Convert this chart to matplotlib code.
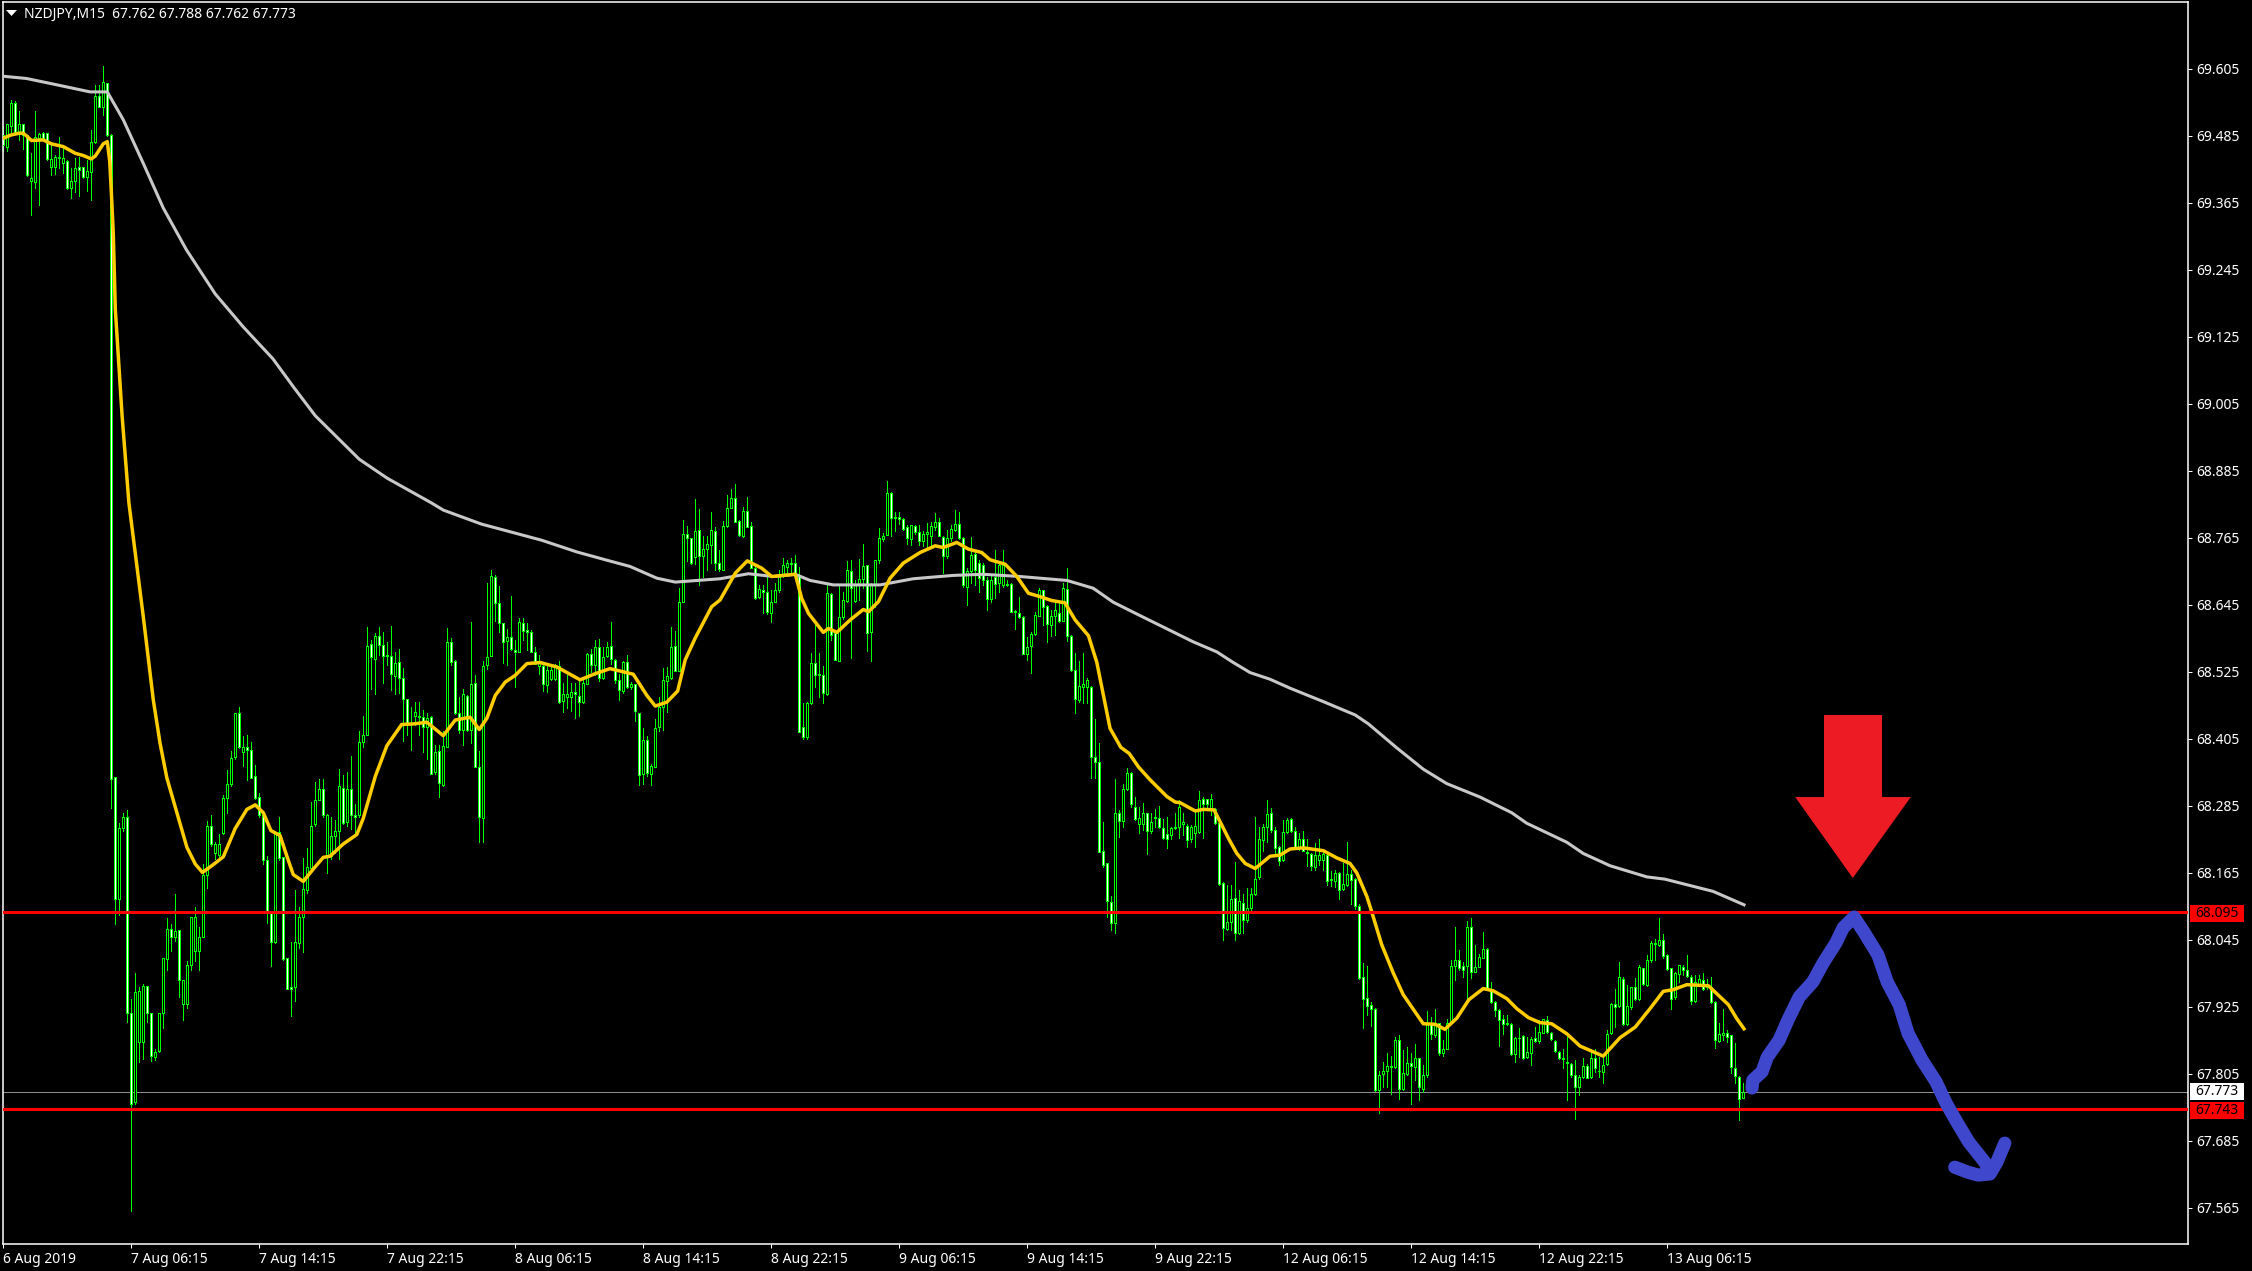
import matplotlib
matplotlib.use("Agg")
import matplotlib.pyplot as plt
from matplotlib.patches import Polygon, Rectangle

# candles as (open, high, low, close), one list per stretch of the chart
bars_6_aug = [
    (69.487,69.503,69.459,69.469),(69.466,69.507,69.459,69.507),(69.503,69.55,69.493,69.544),(69.544,69.547,69.49,69.492),
    (69.493,69.529,69.478,69.507),(69.507,69.507,69.462,69.487),(69.487,69.487,69.413,69.416),(69.404,69.454,69.344,69.41),
    (69.402,69.529,69.392,69.484),(69.481,69.49,69.362,69.489),(69.49,69.493,69.478,69.481),(69.49,69.49,69.442,69.444),
    (69.429,69.472,69.416,69.444),(69.429,69.451,69.417,69.448),(69.447,69.484,69.428,69.445),(69.436,69.463,69.419,69.445),
    (69.441,69.442,69.39,69.392),(69.392,69.428,69.374,69.404),(69.404,69.445,69.384,69.428),(69.43,69.448,69.378,69.424),
    (69.429,69.429,69.41,69.411),(69.411,69.442,69.386,69.422),(69.42,69.495,69.371,69.475),(69.475,69.577,69.473,69.556),
    (69.556,69.577,69.537,69.537),(69.537,69.611,69.523,69.581),(69.58,69.58,69.485,69.487),(69.487,69.488,68.282,68.333),
    (68.337,68.337,68.074,68.119),(68.119,68.255,68.089,68.245),(68.245,68.273,68.24,68.265),(68.265,68.278,67.898,67.914),
]
bars_7_aug = [
    (67.914,67.939,67.559,67.752),(67.754,67.986,67.751,67.951),(67.863,67.96,67.826,67.954),(67.862,67.967,67.832,67.963),
    (67.962,67.962,67.898,67.914),(67.914,67.914,67.829,67.837),(67.836,67.85,67.83,67.844),(67.847,67.915,67.845,67.915),
    (67.914,68.012,67.888,68.012),(68.011,68.085,67.992,68.065),(68.064,68.074,68.026,68.051),(68.051,68.127,68.044,68.061),
    (68.063,68.063,67.943,67.974),(67.93,67.974,67.902,67.974),(67.93,68.008,67.924,68.001),(68.0,68.086,67.992,68.086),
    (68.025,68.104,68.007,68.086),(68.025,68.069,67.992,68.05),(68.05,68.181,68.05,68.162),(68.161,68.258,68.139,68.249),
    (68.249,68.268,68.214,68.217),(68.2,68.22,68.19,68.217),(68.198,68.234,68.194,68.217),(68.237,68.305,68.234,68.299),
    (68.299,68.35,68.273,68.324),(68.324,68.384,68.32,68.371),(68.372,68.452,68.37,68.452),(68.452,68.463,68.388,68.39),
    (68.382,68.41,68.356,68.39),(68.39,68.412,68.331,68.386),(68.386,68.4,68.335,68.336),(68.338,68.358,68.298,68.3),
    (68.302,68.309,68.266,68.268),(68.268,68.268,68.181,68.188),(68.188,68.196,68.076,68.093),(68.093,68.097,67.999,68.041),
    (68.041,68.24,68.04,68.239),(68.239,68.266,68.189,68.191),(68.193,68.193,68.009,68.011),(68.013,68.013,67.957,67.958),
    (67.96,68.041,67.908,67.958),(67.96,68.134,67.935,68.041),(68.039,68.104,68.03,68.086),(68.087,68.191,68.024,68.136),
    (68.135,68.209,68.13,68.175),(68.174,68.292,68.17,68.25),(68.252,68.328,68.25,68.296),(68.296,68.333,68.295,68.316),
    (68.315,68.333,68.265,68.268),(68.195,68.27,68.165,68.268),(68.195,68.266,68.19,68.232),(68.232,68.26,68.2,68.241),
    (68.241,68.351,68.19,68.32),(68.318,68.341,68.253,68.255),(68.257,68.345,68.25,68.316),(68.315,68.374,68.243,68.268),
    (68.268,68.289,68.237,68.266),(68.268,68.42,68.265,68.4),(68.4,68.446,68.39,68.413),(68.413,68.605,68.413,68.572),
    (68.575,68.582,68.494,68.552),(68.549,68.594,68.486,68.59),(68.589,68.605,68.555,68.574),(68.574,68.597,68.506,68.554),
    (68.554,68.578,68.537,68.556),(68.554,68.607,68.493,68.521),(68.518,68.56,68.486,68.542),(68.543,68.566,68.487,68.514),
    (68.514,68.532,68.402,68.476),(68.476,68.476,68.412,68.431),(68.431,68.462,68.385,68.433),(68.447,68.471,68.43,68.453),
    (68.447,68.471,68.412,68.445),(68.444,68.457,68.382,68.426),(68.427,68.451,68.37,68.442),(68.444,68.446,68.343,68.343),
    (68.345,68.394,68.343,68.382),(68.383,68.394,68.302,68.326),(68.323,68.42,68.321,68.393),(68.39,68.603,68.39,68.579),
    (68.578,68.585,68.537,68.543),(68.545,68.546,68.449,68.451),(68.451,68.48,68.415,68.421),(68.421,68.495,68.394,68.485),
    (68.482,68.483,68.419,68.421),(68.422,68.614,68.398,68.504),(68.505,68.52,68.354,68.355),(68.355,68.383,68.221,68.265),
    (68.264,68.545,68.221,68.536),(68.537,68.685,68.53,68.552),(68.554,68.707,68.554,68.697),(68.696,68.698,68.616,68.649),
    (68.648,68.679,68.597,68.612),(68.612,68.613,68.541,68.579),(68.581,68.602,68.537,68.587),(68.588,68.661,68.565,68.567),
]
bars_8_aug = [
    (68.565,68.582,68.498,68.561),(68.561,68.621,68.561,68.615),(68.613,68.622,68.582,68.599),(68.601,68.613,68.565,68.597),
    (68.597,68.6,68.56,68.561),(68.561,68.57,68.539,68.539),(68.535,68.556,68.522,68.541),(68.535,68.54,68.491,68.504),
    (68.502,68.54,68.489,68.529),(68.513,68.54,68.511,68.528),(68.513,68.539,68.51,68.537),(68.535,68.545,68.47,68.471),
    (68.473,68.506,68.454,68.485),(68.48,68.519,68.461,68.486),(68.48,68.506,68.455,68.489),(68.489,68.506,68.443,68.485),
    (68.482,68.512,68.446,68.471),(68.471,68.513,68.47,68.505),(68.504,68.559,68.503,68.558),(68.558,68.567,68.525,68.537),
    (68.537,68.582,68.519,68.57),(68.57,68.584,68.509,68.515),(68.515,68.569,68.513,68.552),(68.553,68.579,68.552,68.57),
    (68.572,68.614,68.54,68.549),(68.546,68.549,68.506,68.51),(68.511,68.522,68.474,68.492),(68.491,68.545,68.487,68.543),
    (68.543,68.555,68.497,68.498),(68.498,68.507,68.495,68.504),(68.503,68.504,68.437,68.455),(68.451,68.452,68.322,68.34),
    (68.343,68.424,68.325,68.404),(68.404,68.41,68.338,68.344),(68.343,68.36,68.322,68.357),(68.355,68.44,68.354,68.425),
    (68.427,68.48,68.42,68.462),(68.462,68.533,68.421,68.51),(68.509,68.534,68.454,68.517),(68.515,68.605,68.513,68.569),
    (68.571,68.599,68.526,68.527),(68.526,68.675,68.526,68.651),(68.65,68.797,68.65,68.772),(68.772,68.787,68.723,68.765),
    (68.765,68.765,68.718,68.72),(68.731,68.835,68.718,68.778),(68.779,68.817,68.681,68.732),(68.733,68.768,68.696,68.745),
    (68.745,68.768,68.708,68.754),(68.753,68.811,68.721,68.78),(68.777,68.784,68.708,68.721),(68.721,68.744,68.705,68.709),
    (68.708,68.796,68.708,68.787),(68.787,68.842,68.784,68.818),(68.818,68.852,68.818,68.836),(68.836,68.862,68.794,68.794),
    (68.796,68.797,68.768,68.771),(68.769,68.821,68.766,68.813),(68.813,68.838,68.784,68.785),(68.787,68.793,68.711,68.711),
    (68.711,68.714,68.655,68.657),(68.659,68.681,68.657,68.673),(68.671,68.68,68.63,68.669),(68.669,68.696,68.629,68.633),
    (68.631,68.672,68.615,68.651),(68.651,68.684,68.65,68.671),(68.671,68.708,68.668,68.699),(68.699,68.729,68.695,68.716),
    (68.713,68.726,68.699,68.721),(68.72,68.729,68.699,68.719),(68.72,68.734,68.701,68.701),(68.699,68.713,68.418,68.418),
    (68.426,68.469,68.405,68.409),(68.409,68.472,68.405,68.469),(68.469,68.559,68.467,68.541),(68.541,68.612,68.499,68.52),
    (68.521,68.559,68.481,68.519),(68.52,68.535,68.469,68.487),(68.486,68.684,68.484,68.666),(68.665,68.666,68.582,68.591),
    (68.594,68.6,68.547,68.547),(68.544,68.681,68.544,68.624),(68.624,68.669,68.62,68.654),(68.653,68.723,68.65,68.708),
    (68.705,68.726,68.55,68.675),(68.653,68.69,68.651,68.681),(68.681,68.727,68.654,68.692),(68.691,68.754,68.675,68.714),
    (68.716,68.717,68.562,68.594),(68.596,68.684,68.544,68.681),(68.681,68.726,68.642,68.725),(68.725,68.783,68.72,68.765),
    (68.763,68.774,68.76,68.769),(68.771,68.867,68.77,68.845),(68.845,68.848,68.768,68.8),(68.803,68.812,68.777,68.801),
]
bars_9_aug = [
    (68.803,68.811,68.79,68.799),(68.799,68.8,68.78,68.781),(68.784,68.788,68.755,68.765),(68.763,68.788,68.753,68.788),
    (68.787,68.788,68.773,68.775),(68.775,68.788,68.753,68.759),(68.759,68.777,68.75,68.772),(68.772,68.791,68.744,68.775),
    (68.768,68.793,68.753,68.786),(68.784,68.809,68.78,68.794),(68.794,68.8,68.768,68.768),(68.766,68.768,68.702,68.732),
    (68.733,68.78,68.73,68.765),(68.765,68.789,68.76,68.781),(68.78,68.815,68.778,68.79),(68.79,68.811,68.763,68.765),
    (68.765,68.766,68.678,68.68),(68.678,68.711,68.645,68.705),(68.705,68.766,68.684,68.735),(68.737,68.74,68.681,68.708),
    (68.72,68.725,68.669,68.693),(68.716,68.72,68.681,68.689),(68.69,68.695,68.636,68.655),(68.655,68.7,68.651,68.69),
    (68.696,68.744,68.657,68.683),(68.684,68.721,68.669,68.717),(68.681,68.744,68.678,68.717),(68.683,68.69,68.679,68.681),
    (68.682,68.684,68.633,68.633),(68.635,68.636,68.602,68.633),(68.631,68.66,68.621,68.624),(68.623,68.626,68.557,68.557),
    (68.557,68.588,68.547,68.569),(68.571,68.597,68.524,68.593),(68.593,68.633,68.591,68.627),(68.626,68.675,68.625,68.672),
    (68.671,68.671,68.609,68.642),(68.643,68.645,68.578,68.611),(68.609,68.636,68.59,68.625),(68.625,68.648,68.591,68.636),
    (68.631,68.651,68.615,68.617),(68.617,68.684,68.617,68.675),(68.674,68.711,68.581,68.59),(68.59,68.592,68.526,68.528),
    (68.528,68.559,68.451,68.476),(68.475,68.544,68.472,68.5),(68.499,68.559,68.469,68.504),(68.499,68.514,68.47,68.51),
    (68.499,68.5,68.336,68.372),(68.373,68.44,68.336,68.364),(68.364,68.398,68.203,68.203),(68.205,68.257,68.176,68.179),
    (68.182,68.183,68.087,68.114),(68.113,68.123,68.062,68.075),(68.075,68.333,68.057,68.272),(68.272,68.277,68.229,68.259),
    (68.259,68.324,68.248,68.315),(68.315,68.353,68.314,68.344),(68.344,68.346,68.283,68.289),(68.284,68.301,68.26,68.261),
    (68.252,68.284,68.236,68.263),(68.253,68.29,68.242,68.272),(68.272,68.273,68.199,68.241),(68.241,68.272,68.236,68.257),
    (68.265,68.279,68.248,68.263),(68.264,68.285,68.245,68.247),(68.246,68.262,68.225,68.227),(68.234,68.266,68.209,68.225),
    (68.233,68.248,68.225,68.245),(68.246,68.272,68.243,68.247),(68.247,68.296,68.227,68.284),(68.253,68.272,68.233,68.257),
    (68.25,68.253,68.211,68.224),(68.225,68.251,68.221,68.248),(68.236,68.275,68.211,68.25),(68.238,68.311,68.236,68.296),
    (68.298,68.302,68.227,68.289),(68.298,68.298,68.281,68.289),(68.279,68.306,68.269,68.297),(68.279,68.281,68.253,68.254),
    (68.254,68.256,68.143,68.145),(68.147,68.148,68.045,68.066),(68.064,68.144,68.063,68.078),(68.078,68.144,68.063,68.118),
    (68.12,68.185,68.045,68.057),(68.057,68.135,68.055,68.114),(68.112,68.128,68.057,68.081),(68.08,68.139,68.078,68.102),
    (68.102,68.139,68.099,68.127),(68.127,68.265,68.126,68.155),(68.157,68.248,68.155,68.225),(68.224,68.253,68.205,68.247),
    (68.247,68.296,68.221,68.27),(68.272,68.281,68.239,68.242),(68.242,68.247,68.2,68.209),(68.211,68.213,68.179,68.187),
]
bars_12_aug = [
    (68.188,68.26,68.187,68.238),(68.238,68.263,68.236,68.26),(68.262,68.263,68.239,68.241),(68.24,68.248,68.21,68.212),
    (68.21,68.236,68.207,68.225),(68.226,68.241,68.204,68.204),(68.202,68.225,68.178,68.2),(68.199,68.2,68.17,68.177),
    (68.176,68.218,68.171,68.198),(68.189,68.226,68.18,68.198),(68.188,68.207,68.171,68.199),(68.198,68.199,68.144,68.151),
    (68.155,68.168,68.141,68.153),(68.15,68.17,68.14,68.165),(68.165,68.167,68.118,68.135),(68.137,68.183,68.135,68.146),
    (68.144,68.22,68.141,68.163),(68.163,68.17,68.11,68.153),(68.155,68.156,68.1,68.105),(68.105,68.11,67.976,67.977),
    (67.978,68.003,67.888,67.94),(67.941,67.999,67.91,67.927),(67.929,67.934,67.891,67.922),(67.922,67.923,67.774,67.776),
    (67.776,67.81,67.735,67.804),(67.805,67.827,67.782,67.81),(67.81,67.843,67.782,67.819),(67.819,67.838,67.769,67.818),
    (67.818,67.871,67.815,67.865),(67.865,67.874,67.761,67.778),(67.778,67.848,67.776,67.806),(67.805,67.853,67.803,67.825),
    (67.825,67.842,67.751,67.819),(67.818,67.858,67.794,67.833),(67.833,67.834,67.758,67.782),(67.778,67.821,67.773,67.804),
    (67.803,67.917,67.799,67.895),(67.895,67.907,67.868,67.877),(67.874,67.922,67.871,67.896),(67.896,67.897,67.839,67.843),
    (67.843,67.865,67.837,67.849),(67.85,67.904,67.849,67.896),(67.898,68.009,67.895,67.999),(67.998,68.068,67.973,68.009),
    (68.009,68.027,67.991,67.994),(67.998,68.006,67.979,67.992),(67.999,68.079,67.937,68.068),(68.068,68.085,67.977,67.988),
    (67.988,68.036,67.988,67.996),(67.997,68.02,67.996,68.015),(68.013,68.059,68.012,68.028),(68.028,68.03,67.958,67.958),
    (67.958,67.97,67.933,67.934),(67.934,67.936,67.909,67.92),(67.92,67.922,67.856,67.902),(67.904,67.91,67.877,67.895),
    (67.895,67.91,67.892,67.896),(67.895,67.897,67.839,67.84),(67.84,67.871,67.827,67.87),(67.87,67.888,67.836,67.87),
    (67.873,67.875,67.831,67.834),(67.836,67.871,67.833,67.845),(67.843,67.871,67.821,67.868),(67.87,67.889,67.862,67.864),
    (67.864,67.901,67.861,67.88),(67.879,67.904,67.878,67.904),(67.902,67.908,67.879,67.88),(67.879,67.88,67.865,67.867),
    (67.864,67.866,67.844,67.846),(67.845,67.846,67.832,67.834),(67.834,67.85,67.815,67.832),(67.826,67.871,67.758,67.824),
    (67.822,67.824,67.8,67.803),(67.804,67.83,67.725,67.782),(67.782,67.803,67.767,67.8),(67.8,67.834,67.798,67.819),
    (67.819,67.822,67.797,67.797),(67.799,67.85,67.797,67.833),(67.833,67.85,67.809,67.815),(67.811,67.836,67.8,67.81),
    (67.809,67.836,67.789,67.821),(67.822,67.883,67.821,67.877),(67.879,67.932,67.876,67.931),(67.93,67.958,67.889,67.925),
    (67.926,68.005,67.925,67.978),(67.976,67.979,67.892,67.895),(67.895,67.964,67.892,67.926),(67.925,67.961,67.922,67.96),
    (67.96,67.977,67.937,67.939),(67.94,68.0,67.937,67.996),(67.994,67.995,67.964,67.967),(67.964,68.018,67.962,68.01),
    (68.009,68.043,68.006,68.04),(68.04,68.046,68.009,68.037),(68.036,68.085,68.035,68.045),(68.045,68.056,68.013,68.016),
]
bars_13_aug = [
    (68.019,68.02,67.992,67.993),(67.994,67.995,67.921,67.94),(67.942,67.988,67.94,67.985),(67.984,68.001,67.97,68.0),
    (67.997,68.0,67.982,67.992),(67.991,68.018,67.979,67.98),(67.979,67.982,67.93,67.936),(67.936,67.982,67.934,67.97),
    (67.967,67.982,67.964,67.975),(67.974,67.985,67.956,67.958),(67.96,67.976,67.958,67.962),(67.961,67.979,67.932,67.934),
    (67.934,67.935,67.852,67.865),(67.864,67.896,67.862,67.876),(67.874,67.922,67.865,67.879),(67.879,67.884,67.862,67.871),
    (67.874,67.875,67.806,67.818),(67.815,67.861,67.788,67.802),(67.8,67.801,67.723,67.761),(67.762,67.788,67.762,67.773),
]

# moving averages read at the bars where they bend
fast_bar = [0,2,4,5,6,7,10,12,15,18,20,22,23,25,26,26.6,27,27.5,28,29.7,31.4,35,37.5,39.2,40.9,43.4,45.9,48,49.8,52.5,55,58,60.9,63,65,66.9,69.2,70.9,72.5,75,77.5,80,81.7,85,88.4,90,93,95.9,99.6,102.5,105.9,110,113,116.7,119,120.9,123,125.5,128,130.9,134.2,138.4,144.2,148,151.7,157.5,160.9,163,165.9,168.6,170.5,173,177.1,179.2,183,186,189.6,192.1,198,199.6,201.3,205,206.3,208.4,211.7,215,216.3,218.8,221.7,225,229.2,233,235,238.4,241.3,244.6,246.7,250.5,253.4,256.3,259.2,262.1,265.4,268,271.3,273.4,276.7,279.4,281.5,283.8,286.7,290.9,293,294.2,298,300,302.7,304.2,306.3,308.4,310.5,313,316.7,319.2,321.7,325,330,333.4,336.7,338.4,340.9,342.1,344.6,347.5,350,355,358,360.4,363.4,366.4,370,372.5,375.9,378.4,381.3,384.2,387.1,390.9,394.2,400,404.2,408,411.7,415,417.5,420.9,426.3,428.8,431.3,433.4,435.2]
fast_ma = [69.481,69.487,69.49,69.49,69.484,69.477,69.478,69.471,69.466,69.454,69.45,69.444,69.449,69.471,69.475,69.44,69.386,69.31,69.175,68.984,68.828,68.624,68.475,68.397,68.335,68.273,68.211,68.181,68.166,68.18,68.194,68.245,68.279,68.287,68.273,68.241,68.232,68.195,68.162,68.15,68.172,68.193,68.195,68.217,68.234,68.263,68.338,68.393,68.431,68.432,68.435,68.411,68.439,68.444,68.422,68.442,68.483,68.507,68.519,68.54,68.542,68.534,68.511,68.522,68.531,68.521,68.483,68.464,68.471,68.491,68.547,68.586,68.642,68.654,68.702,68.724,68.711,68.696,68.7,68.657,68.63,68.596,68.603,68.596,68.618,68.637,68.633,68.651,68.693,68.72,68.739,68.751,68.748,68.757,68.745,68.739,68.726,68.718,68.696,68.666,68.66,68.653,68.649,68.618,68.59,68.542,68.424,68.39,68.379,68.355,68.332,68.302,68.292,68.291,68.276,68.279,68.278,68.257,68.227,68.2,68.182,68.173,68.195,68.197,68.208,68.21,68.205,68.192,68.182,68.165,68.123,68.096,68.037,67.986,67.947,67.895,67.894,67.885,67.905,67.938,67.958,67.954,67.94,67.922,67.906,67.897,67.895,67.877,67.855,67.837,67.87,67.889,67.922,67.953,67.956,67.965,67.963,67.946,67.929,67.904,67.886]
slow_bar = [0,5.8,12.5,21.7,26,30,35,40,45.8,53,60,67.4,72.7,78,89,96,107,110,119.5,134.6,143.4,150.5,156.7,163.4,168,179.2,186.3,192.5,198,201.7,207.5,219.2,227.5,237.5,245,254.2,265.9,272.5,277.5,284.2,297.5,303.4,307.5,311.7,316.7,321.7,330,338,341.3,348.4,355,360.9,369.2,377.1,380.9,390.9,395,401.7,410.9,415.4,427.5,435.2]
slow_ma = [69.592,69.588,69.578,69.564,69.564,69.514,69.436,69.356,69.281,69.202,69.143,69.086,69.034,68.984,68.906,68.872,68.828,68.815,68.79,68.761,68.74,68.726,68.714,68.693,68.686,68.692,68.701,68.696,68.7,68.689,68.681,68.681,68.692,68.698,68.7,68.696,68.689,68.675,68.65,68.626,68.579,68.561,68.542,68.524,68.512,68.496,68.472,68.448,68.432,68.389,68.351,68.325,68.301,68.273,68.254,68.22,68.2,68.178,68.158,68.154,68.132,68.108]

# horizontal levels and price scale
support_level = 67.743
resistance_level = 68.095
last_price = 67.773
price_ticks = [69.605,69.485,69.365,69.245,69.125,69.005,68.885,68.765,68.645,68.525,68.405,68.285,68.165,68.045,67.925,67.805,67.685,67.565]
date_labels = ["6 Aug 2019","7 Aug 06:15","7 Aug 14:15","7 Aug 22:15","8 Aug 06:15","8 Aug 14:15","8 Aug 22:15","9 Aug 06:15","9 Aug 14:15","9 Aug 22:15","12 Aug 06:15","12 Aug 14:15","12 Aug 22:15","13 Aug 06:15"]
date_bars = [0,32,64,96,128,160,192,224,256,288,320,352,384,416]

# hand drawn forecast, in bars and prices
sketch_bar = [437.2,437.4,439.7,441,444,446.2,449,452.4,455,458.2,460,462.7,465.2,468.7,471,474,476.2,479.7,483.2,485.7,488.4,491.4,495.4,496.7]
sketch_price = [67.78,67.794,67.809,67.835,67.866,67.902,67.943,67.97,68.004,68.04,68.067,68.086,68.059,68.018,67.97,67.929,67.878,67.83,67.791,67.753,67.719,67.683,67.647,67.629]
hook_bar = [487.9,491.2,493.7,496.7,498.4,500.4]
hook_price = [67.638,67.629,67.624,67.626,67.647,67.681]
arrow_bar = [455.2,469.7,469.7,476.9,462.4,448,455.2]
arrow_price = [68.448,68.448,68.301,68.301,68.156,68.301,68.301]

bars = bars_6_aug + bars_7_aug + bars_8_aug + bars_9_aug + bars_12_aug + bars_13_aug
opens, highs, lows, closes = zip(*bars)
idx = list(range(len(bars)))

WIDTH, HEIGHT = 2252, 1271
plt.rcParams['font.family'] = ['Noto Sans', 'DejaVu Sans']

fig = plt.figure(figsize=(WIDTH / 100, HEIGHT / 100), dpi=100, facecolor="black")
ax = fig.add_axes([3 / WIDTH, 1 - 1244 / HEIGHT, 2185 / WIDTH, 1242 / HEIGHT], facecolor="black")
ax.set_xlim(-0.075, 546.2)
ax.set_ylim(67.5005, 69.725)

# candles, black body when the bar closed up, white when it closed down
body_colors = ["black" if c >= o else "white" for o, c in zip(opens, closes)]
ax.vlines(idx, lows, highs, color="#00ff00", linewidth=0.5, antialiased=False, zorder=2)
ax.bar(idx, [abs(c - o) for o, c in zip(opens, closes)], bottom=[min(o, c) for o, c in zip(opens, closes)],
       width=0.5, color=body_colors, edgecolor="#00ff00", linewidth=0.5, antialiased=False, zorder=3)

ax.axhline(last_price, color="#8c8c8c", linewidth=0.75, zorder=1)
ax.plot(slow_bar, slow_ma, color="#c8c8c8", linewidth=2.2, zorder=4)
ax.plot(fast_bar, fast_ma, color="#ffcc00", linewidth=2.5, zorder=5)
ax.axhline(resistance_level, color="#ff0000", linewidth=2.2, zorder=6)
ax.axhline(support_level, color="#ff0000", linewidth=2.2, zorder=6)

# drawn on top of the chart
ax.add_patch(Polygon(list(zip(arrow_bar, arrow_price)), closed=True, facecolor="#ed1c24", edgecolor="none", zorder=7))
ax.plot(sketch_bar, sketch_price, color="#3f48cc", linewidth=9.5, solid_capstyle="round", solid_joinstyle="round", zorder=8)
ax.plot(hook_bar, hook_price, color="#3f48cc", linewidth=9.5, solid_capstyle="round", solid_joinstyle="round", zorder=8)

for side in ax.spines.values():
    side.set_color("white")
    side.set_linewidth(1.1)

ax.yaxis.tick_right()
ax.set_yticks(price_ticks)
ax.set_yticklabels([f"{p:.3f}" for p in price_ticks], color="white", fontsize=10)
ax.set_xticks(date_bars)
ax.set_xticklabels(date_labels, color="white", fontsize=10, ha="left")
ax.tick_params(axis="y", colors="white", length=3, width=0.75, pad=3)
ax.tick_params(axis="x", colors="white", length=3, width=0.75, pad=3)

# price boxes on the right hand scale
def price_box(y_top, color, label):
    fig.add_artist(Rectangle((2190 / WIDTH, 1 - (y_top + 17) / HEIGHT), 54 / WIDTH, 17 / HEIGHT,
                             transform=fig.transFigure, facecolor=color, edgecolor="none", zorder=5))
    fig.text(2217 / WIDTH, 1 - (y_top + 8.5) / HEIGHT, label, color="black", fontsize=10,
             ha="center", va="center", zorder=6)

price_box(905, "#ff0000", f"{resistance_level:.3f}")
price_box(1083, "white", f"{last_price:.3f}")
price_box(1102, "#ff0000", f"{support_level:.3f}")

# header of the chart window
fig.add_artist(Polygon([(6 / WIDTH, 1 - 10 / HEIGHT), (17 / WIDTH, 1 - 10 / HEIGHT), (11.5 / WIDTH, 1 - 16 / HEIGHT)],
                       closed=True, transform=fig.transFigure, facecolor="white", edgecolor="none"))
fig.text(24 / WIDTH, 1 - 14 / HEIGHT, "NZDJPY,M15  67.762 67.788 67.762 67.773", color="white", fontsize=10,
         ha="left", va="center")

fig.savefig("out.png", dpi=100, facecolor="black")
